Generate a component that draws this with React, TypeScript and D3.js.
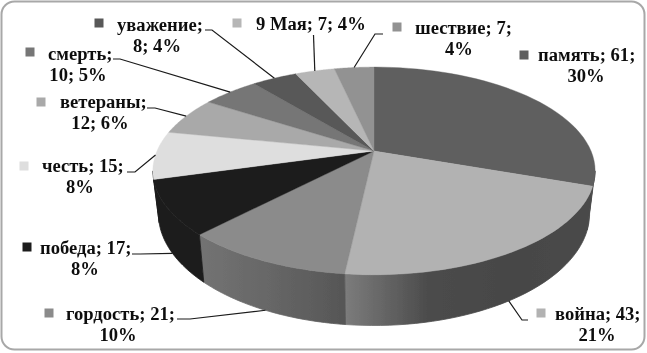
import * as d3 from "d3";

const categories = ["память", "война", "гордость", "победа", "честь", "ветераны", "смерть", "уважение", "9 Мая", "шествие"];
const values = [61, 43, 21, 17, 15, 12, 10, 8, 7, 7];
const percents = [30, 21, 10, 8, 8, 6, 5, 4, 4, 4];

const topColors = ["#5e5e5e", "#b2b2b2", "#8b8b8b", "#1d1d1d", "#dedede", "#a9a9a9", "#767676", "#595959", "#b6b6b6", "#929292"];
const wallStops = [
    ["#474747", "#474747"],
    ["#7c7c7c", "#4c4c4c", "#464646", "#4a4a4a"],
    ["#737373", "#666666", "#565656"],
    ["#1c1c1c", "#1c1c1c"],
    ["#1c1c1c", "#1c1c1c"],
    ["#888888", "#888888"],
    ["#555555", "#555555"],
    ["#444444", "#444444"],
    ["#888888", "#888888"],
    ["#666666", "#666666"],
];

const width = 647;
const height = 353;

// projection of the pie plane, with the far edge shrunk
const cx = 374;
const cy = 151;
const rx = 217;
const ry = 100;
const persp = 0.192;
const depth = 41;
const lowScale = 0.975; // the bottom of the pie sits further from the viewer

const px = (a: number, low = false) =>
    cx + ((low ? lowScale : 1) * rx * Math.sin(a)) / (1 + persp * Math.cos(a));
const py = (a: number, drop = 0) =>
    cy + (-ry * Math.cos(a) + drop) / (1 + persp * Math.cos(a));

// label layout, kept apart from the data
const labelLayout = [
    { key: [524, 55], x: 538, y: 61, cx2: 586 },
    { key: [541, 313], x: 555, y: 320, cx2: 597, leader: [[528, 320], [522, 320]], wall: true },
    { key: [49, 313], x: 66, y: 320, cx2: 118, leader: [[177, 319], [190, 319]], wall: true },
    { key: [27, 247], x: 40, y: 254, cx2: 85, leader: [[132, 254], [140, 254]], wall: true },
    { key: [24, 166], x: 42, y: 172, cx2: 80, leader: [[127, 172], [135, 172]] },
    { key: [41, 102], x: 60, y: 108, cx2: 100, leader: [[147, 108], [155, 108]] },
    { key: [30, 52], x: 48, y: 60, cx2: 78, leader: [[113, 59], [120, 59]] },
    { key: [99, 23], x: 117, y: 31, cx2: 157, leader: [[205, 30], [212, 30]] },
    { key: [237, 23], x: 256, y: 30, cx2: 0, leader: [[313.5, 35]] },
    { key: [397, 27], x: 415, y: 34, cx2: 459, leader: [[383, 34], [375, 34]] },
];

// where each label breaks onto its second line
const labelLines = categories.map((c, i) => {
    const v = values[i];
    const p = percents[i];
    if (c === "9 Мая") return [`${c}; ${v}; ${p}%`];
    if (c === "ветераны" || c === "смерть" || c === "уважение") return [`${c};`, `${v}; ${p}%`];
    return [`${c}; ${v};`, `${p}%`];
});

const arcs = d3.pie<number>().sort(null).value((d) => d)(values);

const arcPoints = (a0: number, a1: number, drop = 0, low = false): [number, number][] =>
    d3.range(0, 41).map((i) => {
        const a = a0 + ((a1 - a0) * i) / 40;
        return [px(a, low), py(a, drop)];
    });

const line = d3.line();

export default function App() {
    // walls only show between the two points where the outline turns back
    const frontStart = Math.acos(-persp);
    const frontEnd = Math.PI * 2 - frontStart;

    return (
        <svg
            width={width}
            height={height}
            style={{ position: "absolute", left: 0, top: 0, background: "#fff" }}
            fontFamily="'Liberation Serif', serif"
            fontWeight="bold"
            fontSize={18.6}
            fill="#111"
        >
            <defs>
                {wallStops.map((stops, i) => (
                    <linearGradient key={i} id={`wall${i}`}>
                        {stops.map((c, j) => (
                            <stop key={j} offset={j / (stops.length - 1)} stopColor={c} />
                        ))}
                    </linearGradient>
                ))}
                <filter id="soft" x="0" y="0" width="1" height="1">
                    <feGaussianBlur stdDeviation="0.45" />
                </filter>
            </defs>
            <g filter="url(#soft)">
                <rect x={0} y={-20} width={width} height={height + 40} fill="#fff" />
                <rect x={1.5} y={1.5} width={643} height={348} rx={13} fill="#fff" stroke="#a8a8a8" strokeWidth={2} />

                {arcs.map((d, i) => {
                    const a0 = Math.max(d.startAngle, frontStart);
                    const a1 = Math.min(d.endAngle, frontEnd);
                    if (a1 <= a0) return null;
                    const pts = [...arcPoints(a0, a1), ...arcPoints(a0, a1, depth, true).reverse()];
                    return (
                        <path
                            key={i}
                            d={line(pts) + "Z"}
                            fill={`url(#wall${i})`}
                            stroke={`url(#wall${i})`}
                            strokeWidth={0.8}
                        />
                    );
                })}

                {arcs.map((d, i) => (
                    <path
                        key={i}
                        d={line([[cx, cy], ...arcPoints(d.startAngle, d.endAngle)]) + "Z"}
                        fill={topColors[i]}
                        stroke={topColors[i]}
                        strokeWidth={0.4}
                    />
                ))}

                {labelLayout.map((l, i) => {
                    if (!l.leader) return null;
                    const mid = (arcs[i].startAngle + arcs[i].endAngle) / 2;
                    const end: [number, number] = l.wall ? [px(mid, true), py(mid, depth)] : [px(mid), py(mid)];
                    return (
                        <path
                            key={i}
                            d={line([...(l.leader as [number, number][]), end]) ?? ""}
                            fill="none"
                            stroke="#1a1a1a"
                            strokeWidth={1.2}
                        />
                    );
                })}

                {labelLayout.map((l, i) => (
                    <g key={i}>
                        <rect x={l.key[0] - 4.5} y={l.key[1] - 4.5} width={9} height={9} fill={topColors[i]} />
                        <text x={l.x} y={l.y}>{labelLines[i][0]}</text>
                        {labelLines[i][1] && (
                            <text x={l.cx2} y={l.y + 21} textAnchor="middle">{labelLines[i][1]}</text>
                        )}
                    </g>
                ))}
            </g>
        </svg>
    );
}
